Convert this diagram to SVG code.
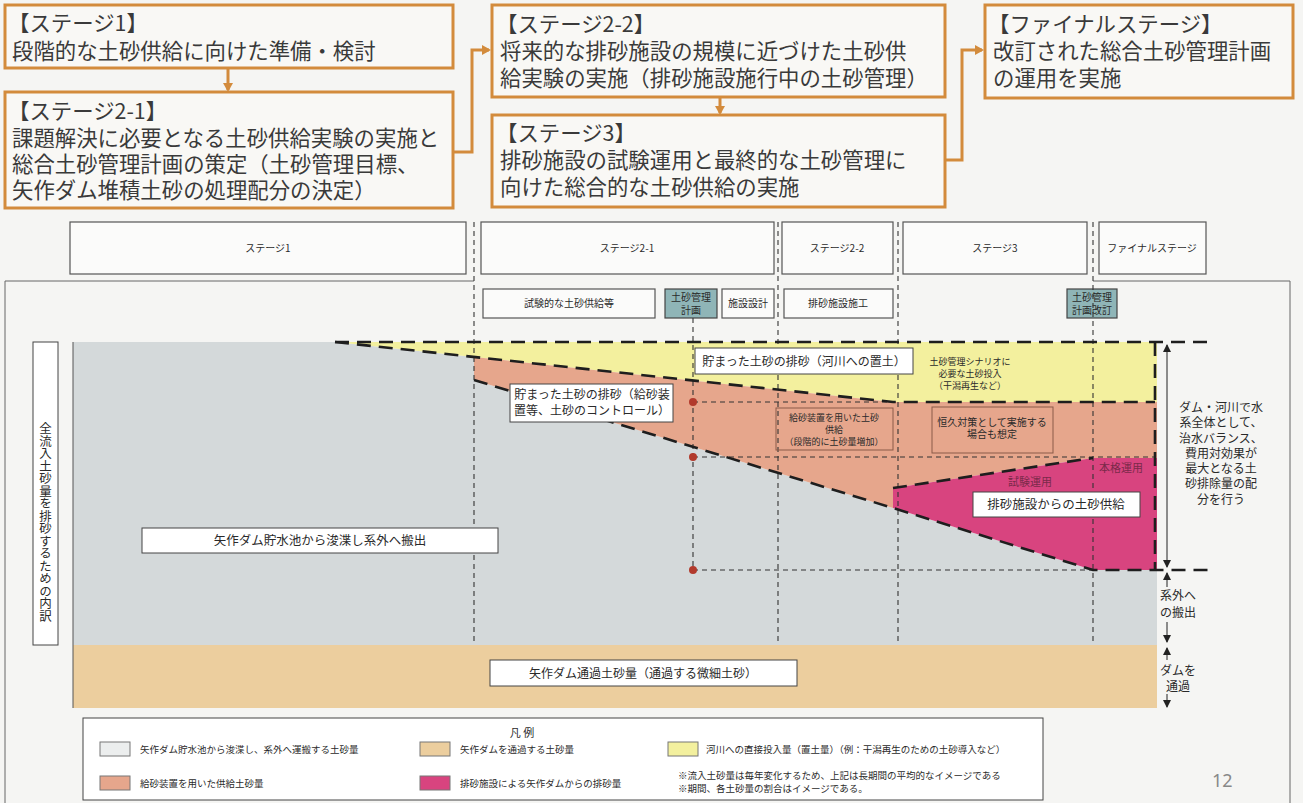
<svg xmlns="http://www.w3.org/2000/svg" width="1303" height="803" viewBox="0 0 1303 803">
<defs>
<style>
.t{font-family:'Noto Sans CJK JP','Noto Sans',sans-serif;fill:#2a2a2a}
.top{font-size:21.4px;fill:#3a3a3a}
.ob{fill:#f9f8f5;stroke:#d38b3c;stroke-width:3}
.oc{fill:none;stroke:#d38b3c;stroke-width:3}
.hb{fill:#fbfbfa;stroke:#555;stroke-width:1.2}
.tb{fill:#8fb5b7;stroke:#444;stroke-width:1.2}
.h{font-size:10px;text-anchor:middle}
.lb{fill:#fff;stroke:#444;stroke-width:1}
.c{text-anchor:middle}
.thick{fill:none;stroke:#1e1e1e;stroke-width:2.6;stroke-dasharray:14 8}
.thin{fill:none;stroke:#333;stroke-width:1.1;stroke-dasharray:5 4}
.lg{font-size:9.5px}
.ar{fill:none;stroke:#222;stroke-width:1}
.sw{stroke:#777;stroke-width:1}
</style>
<marker id="oa" markerWidth="10" markerHeight="10" refX="7" refY="5" orient="auto" markerUnits="userSpaceOnUse"><path d="M0,0 L9,5 L0,10 z" fill="#d38b3c"/></marker>
<marker id="ka" markerWidth="8" markerHeight="8" refX="7" refY="4" orient="auto-start-reverse" markerUnits="userSpaceOnUse"><path d="M0,0 L8,4 L0,8 z" fill="#222"/></marker>
</defs>
<rect width="1303" height="803" fill="#f5f5f3"/>

<!-- top flow boxes -->
<g id="s1">
<rect class="ob" x="5" y="5" width="448" height="63"/>
<text class="t top" x="8" y="31">【ステージ1】</text>
<text class="t top" x="12" y="59">段階的な土砂供給に向けた準備・検討</text>
</g>
<g id="s21">
<rect class="ob" x="5" y="92" width="448" height="116"/>
<text class="t top" x="8" y="119">【ステージ2-1】</text>
<text class="t top" x="12" y="146">課題解決に必要となる土砂供給実験の実施と</text>
<text class="t top" x="12" y="172">総合土砂管理計画の策定（土砂管理目標、</text>
<text class="t top" x="12" y="198">矢作ダム堆積土砂の処理配分の決定）</text>
</g>
<g id="s22">
<rect class="ob" x="492" y="5" width="453" height="92"/>
<text class="t top" x="496" y="32">【ステージ2-2】</text>
<text class="t top" x="500" y="59">将来的な排砂施設の規模に近づけた土砂供</text>
<text class="t top" x="500" y="86">給実験の実施（排砂施設施行中の土砂管理）</text>
</g>
<g id="s3">
<rect class="ob" x="492" y="115" width="453" height="92"/>
<text class="t top" x="496" y="141">【ステージ3】</text>
<text class="t top" x="500" y="168">排砂施設の試験運用と最終的な土砂管理に</text>
<text class="t top" x="500" y="195">向けた総合的な土砂供給の実施</text>
</g>
<g id="fin">
<rect class="ob" x="985" y="5" width="308" height="93"/>
<text class="t top" x="988" y="32">【ファイナルステージ】</text>
<text class="t top" x="993" y="59">改訂された総合土砂管理計画</text>
<text class="t top" x="993" y="86">の運用を実施</text>
</g>
<g id="flow-connectors">
<path class="oc" d="M228,68 V90" marker-end="url(#oa)"/>
<path class="oc" d="M453,152 H472 V50 H489" marker-end="url(#oa)"/>
<path class="oc" d="M720,97 V113" marker-end="url(#oa)"/>
<path class="oc" d="M945,160 H962 V50 H982" marker-end="url(#oa)"/>
</g>

<!-- frame -->
<path d="M5,803 V281 H474 M1093,281 H1290 V803" fill="none" stroke="#666" stroke-width="1"/>

<!-- chart fills -->
<g id="chart">
<path d="M73,342 H335 L474,357 V380 L893,508 L1093,570 H1157 V645 H73 Z" fill="#d4d9da"/>
<path d="M335,342 H1157 V402 H893 L474,357 Z" fill="#f3f09e"/>
<path d="M474,357 L893,402 H1157 V458 H1093 L893,488 V508 L474,380 Z" fill="#e6a68c"/>
<path d="M893,488 L1093,458 H1157 V570 H1093 L893,508 Z" fill="#d8447f"/>
<rect x="73" y="645" width="1084" height="63" fill="#ecce9e"/>
<line x1="73" y1="342" x2="73" y2="708" stroke="#555" stroke-width="1"/>
</g>

<!-- stage header -->
<g id="stage-headers">
<rect class="hb" x="70" y="222" width="396" height="52"/>
<text class="t h" x="268" y="252">ステージ1</text>
<rect class="hb" x="481" y="222" width="293" height="52"/>
<text class="t h" x="627" y="252">ステージ2-1</text>
<rect class="hb" x="782" y="222" width="111" height="52"/>
<text class="t h" x="837" y="252">ステージ2-2</text>
<rect class="hb" x="903" y="222" width="184" height="52"/>
<text class="t h" x="995" y="252">ステージ3</text>
<rect class="hb" x="1099" y="222" width="107" height="52"/>
<text class="t h" x="1152" y="252">ファイナルステージ</text>
</g>
<g id="sub-boxes">
<rect class="hb" x="483" y="289" width="172" height="29"/>
<text class="t h" x="569" y="307">試験的な土砂供給等</text>
<rect class="tb" x="665" y="289" width="52" height="29"/>
<text class="t h" x="691" y="301">土砂管理</text>
<text class="t h" x="691" y="314">計画</text>
<rect class="hb" x="722" y="289" width="52" height="29"/>
<text class="t h" x="748" y="307">施設設計</text>
<rect class="hb" x="784" y="289" width="109" height="29"/>
<text class="t h" x="838" y="307">排砂施設施工</text>
<rect class="tb" x="1067" y="289" width="50" height="29"/>
<text class="t h" x="1092" y="301">土砂管理</text>
<text class="t h" x="1092" y="314">計画改訂</text>
</g>

<!-- connectors / lines -->
<g id="lines">
<path class="thin" d="M474,222 V645 M778,222 V645 M898,222 V645 M1093,222 V645"/>
<path class="thin" d="M693,318 V570 M693,402 H893 M693,457 H1155 M693,570 H1093"/>
<path class="thick" d="M335,342 H1213"/>
<path class="thick" d="M335,342 L893,402 H1155"/>
<path class="thick" d="M474,380 L893,508 L1093,570 H1213"/>
<path class="thick" d="M893,488 L1093,458"/>
<path class="thick" d="M1155,342 V570"/>
<circle cx="693" cy="402" r="4" fill="#b23a2c"/>
<circle cx="693" cy="457" r="4" fill="#b23a2c"/>
<circle cx="693" cy="570" r="4" fill="#b23a2c"/>
<path class="ar" d="M1167,345 V567" marker-start="url(#ka)" marker-end="url(#ka)"/>
<path class="ar" d="M1167,573 V587" marker-start="url(#ka)"/>
<path class="ar" d="M1167,622 V642" marker-end="url(#ka)"/>
<path class="ar" d="M1167,648 V660" marker-start="url(#ka)"/>
<path class="ar" d="M1167,694 V707" marker-end="url(#ka)"/>
</g>

<!-- chart labels -->
<g id="lbl-kasen">
<rect class="lb" x="695" y="348" width="218" height="26"/>
<text class="t c" x="804" y="366" font-size="12">貯まった土砂の排砂（河川への置土）</text>
</g>
<g id="lbl-kyusa">
<rect class="lb" x="510" y="384" width="163" height="38"/>
<text class="t c" x="592" y="399" font-size="12">貯まった土砂の排砂（給砂装</text>
<text class="t c" x="592" y="415" font-size="12">置等、土砂のコントロール）</text>
</g>
<g id="lbl-kyusa2">
<rect x="776" y="408" width="117" height="42" fill="none" stroke="#8a5a48" stroke-width="1"/>
<text class="t c" x="834" y="421" font-size="9">給砂装置を用いた土砂</text>
<text class="t c" x="834" y="433" font-size="9">供給</text>
<text class="t c" x="834" y="445" font-size="9">（段階的に土砂量増加）</text>
</g>
<g id="lbl-scenario">
<text class="t c" x="970" y="365" font-size="9">土砂管理シナリオに</text>
<text class="t c" x="970" y="377" font-size="9">必要な土砂投入</text>
<text class="t c" x="970" y="389" font-size="9">（干潟再生など）</text>
</g>
<g id="lbl-koukyu">
<rect x="932" y="407" width="121" height="46" fill="none" stroke="#8a5a48" stroke-width="1"/>
<text class="t c" x="992" y="426" font-size="10">恒久対策として実施する</text>
<text class="t c" x="992" y="438" font-size="10">場合も想定</text>
</g>
<text class="t c" x="1030" y="486" font-size="11" style="fill:#7a2a4a">試験運用</text>
<text class="t c" x="1121" y="472" font-size="11" style="fill:#7a2a4a">本格運用</text>
<g id="lbl-haisa">
<rect class="lb" x="973" y="492" width="167" height="25"/>
<text class="t c" x="1056" y="509" font-size="12.5">排砂施設からの土砂供給</text>
</g>
<g id="lbl-shunsetsu">
<rect class="lb" x="142" y="528" width="356" height="25"/>
<text class="t c" x="320" y="545" font-size="12.5">矢作ダム貯水池から浚渫し系外へ搬出</text>
</g>
<g id="lbl-tsuka">
<rect class="lb" x="490" y="660" width="307" height="26"/>
<text class="t c" x="643" y="678" font-size="12">矢作ダム通過土砂量（通過する微細土砂）</text>
</g>
<g id="lbl-left">
<rect class="lb" x="33" y="342" width="25" height="303"/>
<text class="t c" x="45.5" y="522" font-size="12.5" style="writing-mode:vertical-rl">全流入土砂量を排砂するための内訳</text>
</g>
<g id="lbl-right">
<text class="t c" x="1221" y="412" font-size="12">ダム・河川で水</text>
<text class="t c" x="1221" y="427" font-size="12">系全体として、</text>
<text class="t c" x="1221" y="443" font-size="12">治水バランス、</text>
<text class="t c" x="1221" y="458" font-size="12">費用対効果が</text>
<text class="t c" x="1221" y="473" font-size="12">最大となる土</text>
<text class="t c" x="1221" y="488" font-size="12">砂排除量の配</text>
<text class="t c" x="1221" y="504" font-size="12">分を行う</text>
<text class="t c" x="1178" y="600" font-size="12">系外へ</text>
<text class="t c" x="1178" y="617" font-size="12">の搬出</text>
<text class="t c" x="1178" y="675" font-size="12">ダムを</text>
<text class="t c" x="1178" y="691" font-size="12">通過</text>
</g>

<!-- legend -->
<g id="legend">
<rect class="lb" x="83" y="718" width="960" height="82"/>
<text class="t c" x="522" y="737" font-size="11">凡 例</text>
<rect class="sw" x="100" y="742" width="30" height="14" fill="#eceeee"/>
<text class="t lg" x="140" y="753">矢作ダム貯水池から浚渫し、系外へ運搬する土砂量</text>
<rect class="sw" x="420" y="742" width="30" height="14" fill="#ecce9e"/>
<text class="t lg" x="460" y="753">矢作ダムを通過する土砂量</text>
<rect class="sw" x="668" y="742" width="30" height="14" fill="#f3f09e"/>
<text class="t lg" x="706" y="753">河川への直接投入量（置土量）（例：干潟再生のための土砂導入など）</text>
<rect class="sw" x="100" y="776" width="30" height="14" fill="#e6a68c"/>
<text class="t lg" x="140" y="787">給砂装置を用いた供給土砂量</text>
<rect class="sw" x="420" y="776" width="30" height="14" fill="#d8447f"/>
<text class="t lg" x="460" y="787">排砂施設による矢作ダムからの排砂量</text>
<text class="t lg" x="678" y="779">※流入土砂量は毎年変化するため、上記は長期間の平均的なイメージである</text>
<text class="t lg" x="678" y="792">※期間、各土砂量の割合はイメージである。</text>
</g>
<text x="1212" y="787" font-family="'Noto Sans',sans-serif" font-size="18" fill="#888">12</text>
</svg>
